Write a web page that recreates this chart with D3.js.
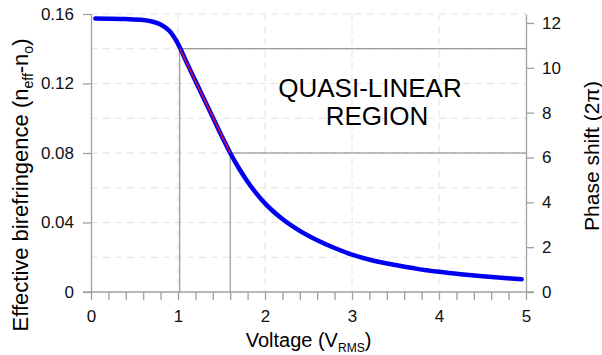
<!DOCTYPE html>
<html>
<head>
<meta charset="utf-8">
<script src="https://cdnjs.cloudflare.com/ajax/libs/d3/7.8.5/d3.min.js"></script>
<style>
  body { margin: 0; background: #fff; }
  svg { display: block; font-family: "Liberation Sans", Arial, sans-serif; }
</style>
</head>
<body>
<script>
// data
const voltage = [0.05, 0.2, 0.4, 0.6, 0.7, 0.8, 0.9, 1.0, 1.1, 1.2, 1.3, 1.4, 1.5, 1.6, 1.7, 1.8, 1.9, 2.0,
  2.2, 2.4, 2.6, 2.8, 3.0, 3.25, 3.5, 3.75, 4.0, 4.25, 4.5, 4.75, 4.95];
const biref = [0.1574, 0.1573, 0.1571, 0.1566, 0.1557, 0.1540, 0.1503, 0.1428, 0.1320, 0.1215, 0.1110, 0.1005, 0.0900, 0.0800, 0.0712, 0.0635, 0.0568, 0.0510,
  0.0420, 0.0352, 0.0298, 0.0253, 0.0215, 0.0180, 0.0155, 0.0133, 0.0116, 0.0102, 0.0090, 0.0080, 0.0073];
const fitV = [1.02, 1.6];
const fitB = [0.14, 0.08];
const xTicks = [0, 1, 2, 3, 4, 5];
const yTicks = [0, 0.04, 0.08, 0.12, 0.16];
const phaseTicks = [0, 2, 4, 6, 8, 10, 12];
const phaseMax = 12.4;

const width = 602, height = 355;
const mLeft = 91, mRight = 526, mTop = 14, mBottom = 292;

const svg = d3.select('body').append('svg')
  .attr('width', width)
  .attr('height', height);

const x = d3.scaleLinear().domain([0, 5]).range([mLeft, mRight]);
const y = d3.scaleLinear().domain([0, 0.16]).range([mBottom, mTop]);
const yR = d3.scaleLinear().domain([0, phaseMax]).range([mBottom, mTop]);

// faint dashed grid
svg.append('g')
  .selectAll('line')
  .data(d3.range(0.02, 0.161, 0.02))
  .enter().append('line')
  .attr('x1', mLeft).attr('x2', mRight)
  .attr('y1', d => y(d)).attr('y2', d => y(d))
  .attr('stroke', '#e2e2e2').attr('stroke-dasharray', '7,5');
svg.append('g')
  .selectAll('line')
  .data([1, 2, 3, 4])
  .enter().append('line')
  .attr('x1', d => x(d)).attr('x2', d => x(d))
  .attr('y1', mTop).attr('y2', mBottom)
  .attr('stroke', '#e2e2e2').attr('stroke-dasharray', '7,5');

// reference lines for the quasi-linear region
const refColor = '#808080';
fitV.forEach((v, i) => {
  svg.append('line')
    .attr('x1', x(v)).attr('x2', x(v))
    .attr('y1', y(0)).attr('y2', y(fitB[i]))
    .attr('stroke', refColor).attr('stroke-width', 1);
  svg.append('line')
    .attr('x1', x(v)).attr('x2', x(5))
    .attr('y1', y(fitB[i])).attr('y2', y(fitB[i]))
    .attr('stroke', refColor).attr('stroke-width', 1);
});

// axes
const axisColor = '#a0a0a0';
function styleAxis(g) {
  g.select('.domain').attr('stroke', axisColor).attr('stroke-width', 1.3);
  g.selectAll('.tick line').attr('stroke', axisColor).attr('stroke-width', 1.3);
  g.selectAll('.tick text').attr('fill', '#111').style('font-size', '17px')
    .style('font-family', '"Liberation Sans", Arial, sans-serif');
}

const xAxis = svg.append('g')
  .attr('transform', 'translate(0,' + mBottom + ')')
  .call(d3.axisBottom(x).tickValues(d3.range(0, 5.01, 0.2)).tickSize(8).tickSizeOuter(0)
    .tickFormat(d => xTicks.some(t => Math.abs(t - d) < 1e-6) ? d3.format('d')(Math.round(d)) : ''))
  .call(styleAxis);
xAxis.selectAll('.tick text').attr('y', 18);
// extend bottom axis line past both side axes
xAxis.select('.domain').attr('d', 'M' + (mLeft - 8) + ',0H' + (mRight + 8));

const yAxis = svg.append('g')
  .attr('transform', 'translate(' + mLeft + ',0)')
  .call(d3.axisLeft(y).tickValues(yTicks).tickSize(8).tickSizeOuter(0)
    .tickFormat(d => d === 0 ? '0' : d3.format('.2f')(d)))
  .call(styleAxis);
yAxis.selectAll('.tick text').attr('x', -17);

const yAxisR = svg.append('g')
  .attr('transform', 'translate(' + mRight + ',0)')
  .call(d3.axisRight(yR).tickValues(phaseTicks).tickSize(8).tickSizeOuter(0))
  .call(styleAxis);
yAxisR.selectAll('.tick text').attr('x', 16);

// curve
const line = d3.line()
  .x((d, i) => x(voltage[i]))
  .y(d => y(d))
  .curve(d3.curveMonotoneX);

svg.append('path')
  .datum(biref)
  .attr('d', line)
  .attr('fill', 'none')
  .attr('stroke', '#0000f0')
  .attr('stroke-width', 4.5)
  .attr('stroke-linecap', 'round');

const fitLine = d3.line()
  .x((d, i) => x(fitV[i]))
  .y(d => y(d));

svg.append('path')
  .datum(fitB)
  .attr('d', fitLine)
  .attr('fill', 'none')
  .attr('stroke', '#e0102a')
  .attr('stroke-width', 1.5);

// annotation
svg.append('text')
  .attr('x', 370).attr('y', 97)
  .attr('text-anchor', 'middle')
  .style('font-size', '26px')
  .text('QUASI-LINEAR');
svg.append('text')
  .attr('x', 377).attr('y', 125)
  .attr('text-anchor', 'middle')
  .style('font-size', '26px')
  .text('REGION');

// axis titles
const xt = svg.append('text')
  .attr('x', (mLeft + mRight) / 2).attr('y', 347)
  .attr('text-anchor', 'middle')
  .style('font-size', '20px');
xt.append('tspan').text('Voltage (V');
xt.append('tspan').attr('dy', 5).style('font-size', '12px').text('RMS');
xt.append('tspan').attr('dy', -5).text(')');

const yt = svg.append('text')
  .attr('transform', 'translate(28,' + 185 + ') rotate(-90)')
  .attr('text-anchor', 'middle')
  .style('font-size', '22px');
yt.append('tspan').text('Effective birefringence (n');
yt.append('tspan').attr('dy', 5).style('font-size', '14px').text('eff');
yt.append('tspan').attr('dy', -5).text('-n');
yt.append('tspan').attr('dy', 5).style('font-size', '14px').text('o');
yt.append('tspan').attr('dy', -5).text(')');

svg.append('text')
  .attr('transform', 'translate(599,' + 156 + ') rotate(-90)')
  .attr('text-anchor', 'middle')
  .style('font-size', '21px')
  .text('Phase shift (2\u03C0)');
</script>
</body>
</html>
